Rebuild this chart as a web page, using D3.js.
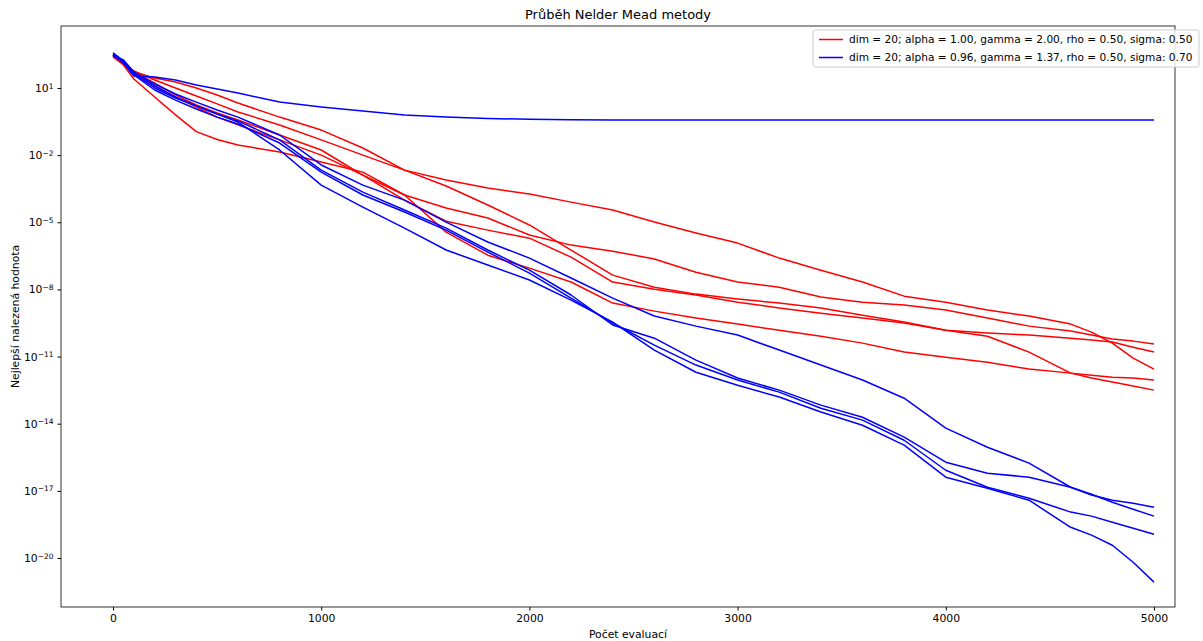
<!DOCTYPE html>
<html>
<head>
<meta charset="utf-8">
<script src="https://cdn.jsdelivr.net/npm/d3@7"></script>
<style>
  body { margin: 0; background: #fff; }
  text { font-family: "DejaVu Sans", sans-serif; fill: #000; }
</style>
</head>
<body>
<svg id="chart" width="1203" height="641"></svg>
<script>
const evals = [0, 50, 100, 200, 300, 400, 500, 600, 800, 1000, 1200, 1400, 1600, 1800, 2000, 2200,
  2400, 2600, 2800, 3000, 3200, 3400, 3600, 3800, 4000, 4200, 4400, 4600, 4700, 4800, 4900, 5000];

// log10 of best found value, red configuration (alpha 1.00, gamma 2.00, sigma 0.50)
const redRuns = [
  [2.48, 2.16, 1.72, 1.45, 1.27, 1.00, 0.69, 0.33, -0.30, -0.88, -1.68, -2.67, -3.11, -3.47, -3.74, -4.10,
   -4.45, -4.99, -5.48, -5.93, -6.60, -7.14, -7.67, -8.30, -8.57, -8.92, -9.19, -9.55, -9.91, -10.40, -11.07, -11.56],
  [2.43, 2.07, 1.67, 1.09, 0.60, 0.15, -0.30, -0.65, -1.32, -2.00, -2.89, -3.78, -4.36, -4.81, -5.57, -6.02,
   -6.29, -6.64, -7.23, -7.67, -7.90, -8.34, -8.57, -8.70, -8.92, -9.28, -9.64, -9.86, -10.04, -10.22, -10.31, -10.44],
  [2.48, 2.12, 1.76, 1.36, 1.00, 0.64, 0.29, -0.07, -0.65, -1.32, -2.00, -2.67, -3.38, -4.23, -5.12, -6.24,
   -7.36, -7.90, -8.21, -8.43, -8.61, -8.83, -9.15, -9.46, -9.82, -9.95, -10.04, -10.18, -10.26, -10.35, -10.58, -10.80],
  [2.43, 2.12, 1.72, 1.22, 0.69, 0.24, -0.12, -0.43, -1.10, -1.77, -2.89, -4.01, -4.95, -5.35, -5.71, -6.56,
   -7.67, -7.99, -8.25, -8.57, -8.83, -9.06, -9.28, -9.50, -9.82, -10.09, -10.80, -11.74, -11.96, -12.14, -12.32, -12.50],
  [2.39, 2.03, 1.40, 0.60, -0.20, -0.95, -1.30, -1.55, -1.86, -2.31, -2.76, -3.78, -5.44, -6.47, -7.05, -7.67,
   -8.61, -8.97, -9.28, -9.55, -9.82, -10.09, -10.40, -10.80, -11.03, -11.25, -11.56, -11.74, -11.83, -11.92, -11.96, -12.05]
];

// log10 of best found value, blue configuration (alpha 0.96, gamma 1.37, sigma 0.70)
const blueRuns = [
  [2.48, 2.12, 1.54, 1.49, 1.36, 1.13, 0.96, 0.78, 0.37, 0.15, -0.03, -0.21, -0.30, -0.36, -0.40, -0.42,
   -0.43, -0.43, -0.43, -0.43, -0.43, -0.43, -0.43, -0.43, -0.43, -0.43, -0.43, -0.43, -0.43, -0.43, -0.43, -0.43],
  [2.43, 2.25, 1.72, 1.18, 0.73, 0.37, 0.02, -0.30, -1.10, -2.44, -3.34, -4.01, -4.99, -5.88, -6.60, -7.49,
   -8.39, -9.19, -9.64, -10.04, -10.71, -11.38, -12.05, -12.86, -14.20, -15.05, -15.76, -16.84, -17.19, -17.42, -17.55, -17.73],
  [2.52, 2.16, 1.63, 1.00, 0.55, 0.20, -0.16, -0.47, -1.32, -2.67, -3.65, -4.45, -5.26, -6.24, -7.14, -8.25,
   -9.59, -10.18, -11.16, -11.96, -12.50, -13.17, -13.71, -14.60, -15.72, -16.21, -16.39, -16.84, -17.15, -17.51, -17.82, -18.13],
  [2.48, 2.12, 1.58, 0.91, 0.46, 0.06, -0.30, -0.61, -1.46, -2.76, -3.78, -4.54, -5.35, -6.33, -7.27, -8.39,
   -9.50, -10.49, -11.38, -12.05, -12.59, -13.31, -13.84, -14.74, -16.08, -16.84, -17.33, -17.95, -18.13, -18.40, -18.67, -18.94],
  [2.57, 2.21, 1.72, 1.09, 0.60, 0.20, -0.16, -0.52, -1.77, -3.34, -4.32, -5.26, -6.24, -6.91, -7.58, -8.48,
   -9.46, -10.71, -11.70, -12.28, -12.81, -13.48, -14.07, -14.96, -16.39, -16.88, -17.42, -18.63, -18.98, -19.43, -20.19, -21.08]
];

const xTicks = [0, 1000, 2000, 3000, 4000, 5000];
const yTickExps = [1, -2, -5, -8, -11, -14, -17, -20];
const legendLabels = [
  "dim = 20; alpha = 1.00, gamma = 2.00, rho = 0.50, sigma: 0.50",
  "dim = 20; alpha = 0.96, gamma = 1.37, rho = 0.50, sigma: 0.70"
];
const colors = ["#ff0000", "#0000ff"];

const plot = {left: 61, right: 1175, top: 26, bottom: 607};
const fontSize = 10.8;

const svg = d3.select('#chart');

const xScale = d3.scaleLinear()
  .domain([-250, 5101])
  .range([plot.left, plot.right]);

const yScale = d3.scaleLog()
  .domain([Math.pow(10, 3.77), Math.pow(10, -22.19)])
  .range([plot.top, plot.bottom]);

svg.append('defs').append('clipPath')
  .attr('id', 'clip')
  .append('rect')
  .attr('x', plot.left)
  .attr('y', plot.top)
  .attr('width', plot.right - plot.left)
  .attr('height', plot.bottom - plot.top);

const line = d3.line()
  .x((d, i) => xScale(evals[i]))
  .y(d => yScale(Math.pow(10, d)));

const runsG = svg.append('g').attr('clip-path', 'url(#clip)');

[redRuns, blueRuns].forEach((runs, k) => {
  runsG.selectAll(`.run${k}`)
    .data(runs)
    .join('path')
    .attr('class', `run${k}`)
    .attr('d', line)
    .style('fill', 'none')
    .style('stroke', colors[k])
    .style('stroke-width', 1.5)
    .style('stroke-linejoin', 'round');
});

// axes
const xAxis = svg.append('g')
  .attr('transform', `translate(0, ${plot.bottom})`)
  .call(d3.axisBottom(xScale).tickValues(xTicks).tickSize(3.5).tickPadding(4).tickFormat(d3.format('d')));
xAxis.select('.domain').remove();
xAxis.selectAll('text').style('font-size', fontSize + 'px').style('font-family', '"DejaVu Sans", sans-serif');

const yAxis = svg.append('g')
  .attr('transform', `translate(${plot.left}, 0)`)
  .call(d3.axisLeft(yScale).tickValues(yTickExps.map(e => Math.pow(10, e))).tickSize(3.5).tickPadding(4).tickFormat(''));
yAxis.select('.domain').remove();

yAxis.selectAll('.tick').each(function(d, i) {
  const e = yTickExps[i];
  const t = d3.select(this).append('text')
    .attr('x', -7.5)
    .attr('dy', '0.32em')
    .attr('text-anchor', 'end')
    .style('font-size', fontSize + 'px');
  t.append('tspan').text('10');
  t.append('tspan')
    .attr('dy', '-0.45em')
    .style('font-size', '7.5px')
    .text(String(e).replace('-', '\u2212'));
});

svg.append('rect')
  .attr('x', plot.left)
  .attr('y', plot.top)
  .attr('width', plot.right - plot.left)
  .attr('height', plot.bottom - plot.top)
  .style('fill', 'none')
  .style('stroke', '#000')
  .style('stroke-width', 0.8);

// titles
svg.append('text')
  .attr('x', (plot.left + plot.right) / 2)
  .attr('y', 19)
  .attr('text-anchor', 'middle')
  .style('font-size', '13px')
  .text('Průběh Nelder Mead metody');

svg.append('text')
  .attr('x', (plot.left + plot.right) / 2 + 10)
  .attr('y', 638)
  .attr('text-anchor', 'middle')
  .style('font-size', fontSize + 'px')
  .text('Počet evaluací');

svg.append('text')
  .attr('transform', `translate(19, ${(plot.top + plot.bottom) / 2}) rotate(-90)`)
  .attr('text-anchor', 'middle')
  .style('font-size', fontSize + 'px')
  .text('Nejlepší nalezená hodnota');

// legend
const legend = svg.append('g').attr('transform', 'translate(813, 30)');
legend.append('rect')
  .attr('width', 386)
  .attr('height', 37)
  .attr('rx', 2.5)
  .style('fill', '#fff')
  .style('fill-opacity', 0.8)
  .style('stroke', '#ccc')
  .style('stroke-width', 1);

legendLabels.forEach((label, i) => {
  const y = 9.5 + i * 18;
  legend.append('line')
    .attr('x1', 6).attr('x2', 30)
    .attr('y1', y).attr('y2', y)
    .style('stroke', colors[i])
    .style('stroke-width', 1.5);
  legend.append('text')
    .attr('x', 36)
    .attr('y', y)
    .attr('dy', '0.35em')
    .style('font-size', '10.6px')
    .text(label);
});
</script>
</body>
</html>
